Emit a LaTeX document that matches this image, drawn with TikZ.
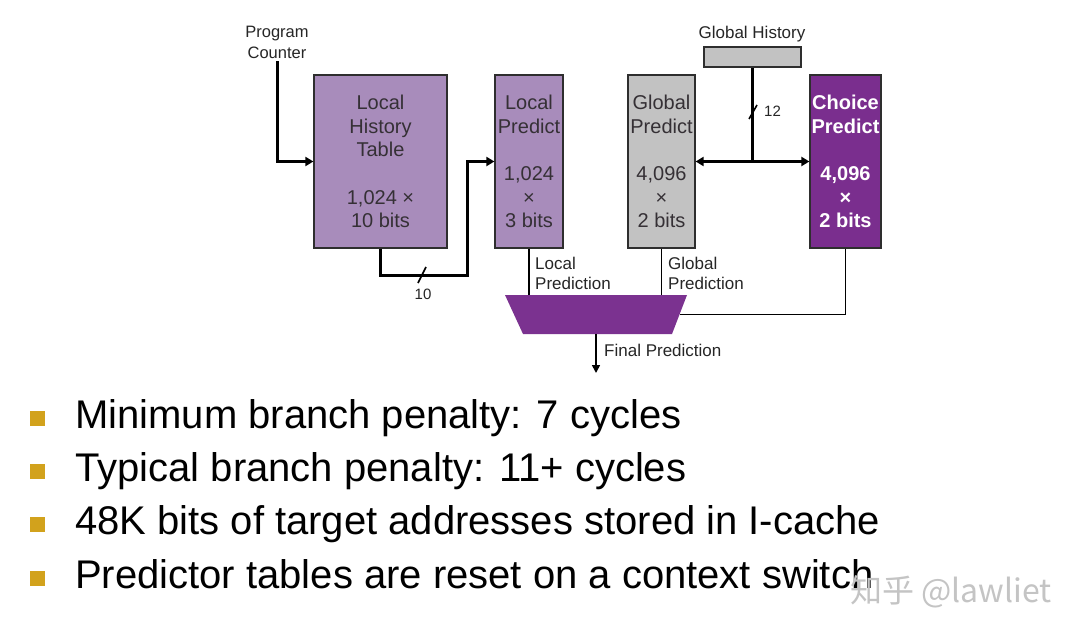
\documentclass[tikz,border=0pt]{standalone}
\usepackage{fontspec}
\setmainfont{Liberation Sans}
\newfontfamily\cjkfont{Noto Sans CJK SC}
\usetikzlibrary{arrows.meta,shapes.geometric,calc}

\definecolor{lightpurple}{HTML}{A88CBB}
\definecolor{darkpurple}{HTML}{7A2E8E}
\definecolor{muxpurple}{HTML}{7B3290}
\definecolor{tablegray}{HTML}{C2C2C2}
\definecolor{boxline}{HTML}{2E2E2E}
\definecolor{boxtext}{HTML}{353035}
\definecolor{gold}{HTML}{D2A21C}
\definecolor{wmgray}{HTML}{C4C4C4}

\begin{document}
\begin{tikzpicture}[x=1pt,y=-1pt,
  table/.style={draw=boxline, line width=1.2pt, minimum height=173pt,
    inner sep=0pt, align=center, text=boxtext,
    font=\fontsize{20}{23.6}\selectfont},
  bus/.style={line width=3pt},
  wire/.style={line width=1.6pt},
  bigtip/.style={-{Triangle[length=8pt,width=9pt]}},
  smalltip/.style={-{Triangle[length=8pt,width=8pt]}},
  lbl/.style={inner sep=0pt, text=black!85, font=\fontsize{17}{20}\selectfont},
  tick/.style={inner sep=0pt, text=black!85, font=\fontsize{15}{18}\selectfont},
  bulletbox/.style={fill=gold, minimum size=15pt, inner sep=0pt},
  point/.style={anchor=base west, inner sep=0pt, font=\fontsize{40}{48}\selectfont}
]
\useasboundingbox[fill=white] (0,0) rectangle (1083,634);

% predictor tables
\node[table, fill=lightpurple, minimum width=133pt] (lht) at (380.5,161.5)
  {Local\\History\\Table\\\mbox{}\\1,024 ×\\10 bits};
\node[table, fill=lightpurple, minimum width=68pt] (lp) at (529,161.5)
  {Local\\Predict\\\mbox{}\\1,024\\×\\3 bits};
\node[table, fill=tablegray, minimum width=67pt] (gp) at (661.5,161.5)
  {Global\\Predict\\\mbox{}\\4,096\\×\\2 bits};
\node[table, fill=darkpurple, minimum width=71pt, text=white,
      font=\fontsize{20}{23.6}\selectfont\bfseries] (cp) at (845.5,161.5)
  {Choice\\Predict\\\mbox{}\\4,096\\×\\2 bits};

% global history register
\node[draw=boxline, line width=1.2pt, fill=tablegray, minimum width=97pt,
      minimum height=20pt, inner sep=0pt] (gh) at (752.5,57) {};
\node[lbl, anchor=base] (ghlbl) at (752,39) {Global History};

% program counter input
\node[lbl, align=center, anchor=north, inner ysep=3pt,
      font=\fontsize{16.5}{21}\selectfont] (pc) at (277,22.5) {Program\\Counter};
\draw[bus, bigtip] (pc.south) |- (lht.west);

% local history to local predictor
\coordinate (bend) at (467,275);
\draw[bus, bigtip] (lht.south) |- (bend) |- (lp.west);
\draw[wire] (418,283) -- (426,267);
\node[tick] (w10) at (423,294) {10};

% global history to global and choice predictors
\coordinate (tee) at (gh.south |- gp.east);
\draw[bus] (gh.south) -- (tee);
\draw[bus, {Triangle[length=8pt,width=9pt]}-{Triangle[length=8pt,width=9pt]}]
  (gp.east) -- (cp.west);
\draw[wire] (749,119) -- (757,105);
\node[tick, anchor=west] (w12) at (764,111) {12};

% selector (trapezoid)
\coordinate (muxtl) at (505,295);
\coordinate (muxtr) at (687,295);
\coordinate (muxbr) at (672,334);
\coordinate (muxbl) at (523,334);
\coordinate (muxright) at (679.5,314.5);
\coordinate (muxout) at (596,334);
\fill[muxpurple] (muxtl) -- (muxtr) -- (muxbr) -- (muxbl) -- cycle;

\draw[wire] (lp.south) -- (lp.south |- muxtl);
\draw[wire] (gp.south) -- (gp.south |- muxtl);
\draw[wire] (cp.south) |- (muxright);
\coordinate (out) at (596,373);
\draw[wire, smalltip] (muxout) -- (out);

\node[lbl, anchor=north west, align=left] (lplbl) at (535,256.5) {Local\\Prediction};
\node[lbl, anchor=north west, align=left] (gplbl) at (668,256.5) {Global\\Prediction};
\node[lbl, anchor=base west] (fplbl) at (604,356) {Final Prediction};

% bullet list
\node[bulletbox] (b1) at (37.5,418) {};
\node[point] (t1) at (75,428) {Minimum branch penalty: 7 cycles};
\node[bulletbox] (b2) at (37.5,471.3) {};
\node[point] (t2) at (75,481.3) {Typical branch penalty: 11+ cycles};
\node[bulletbox] (b3) at (37.5,524.6) {};
\node[point] (t3) at (75,534.6) {48K bits of target addresses stored in I-cache};
\node[bulletbox] (b4) at (37.5,578) {};
\node[point] (t4) at (75,588) {Predictor tables are reset on a context switch};

% watermark
\node[anchor=base west, inner sep=0pt, text=wmgray,
      font=\cjkfont\fontsize{32}{32}\selectfont] (wm) at (850,602) {知乎 @lawliet};
\end{tikzpicture}
\end{document}
